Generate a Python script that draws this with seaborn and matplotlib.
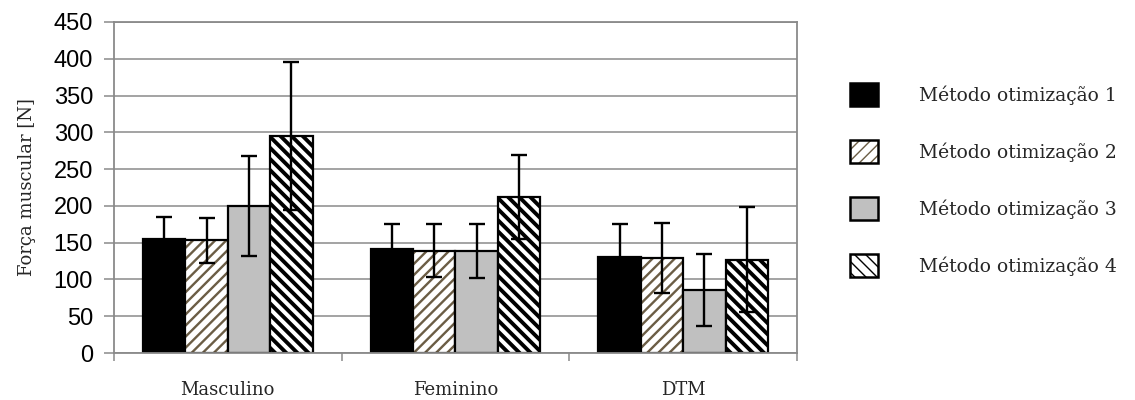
import matplotlib
matplotlib.use("Agg")
import matplotlib.pyplot as plt
from matplotlib.patches import Patch
import seaborn as sns
import pandas as pd

# Data: mean muscle force [N] and standard deviation per group and method
groups = ["Masculino", "Feminino", "DTM"]
methods = ["Método otimização 1", "Método otimização 2",
           "Método otimização 3", "Método otimização 4"]
mean_m1 = [155, 141, 130]
mean_m2 = [153, 139, 129]
mean_m3 = [200, 139, 86]
mean_m4 = [295, 212, 127]
sd_m1 = [30, 34, 46]
sd_m2 = [31, 36, 48]
sd_m3 = [68, 37, 49]
sd_m4 = [101, 57, 71]
y_ticks = [0, 50, 100, 150, 200, 250, 300, 350, 400, 450]

means = [mean_m1, mean_m2, mean_m3, mean_m4]
sds = [sd_m1, sd_m2, sd_m3, sd_m4]

rows = []
for m, vals, errs in zip(methods, means, sds):
    for g, v, e in zip(groups, vals, errs):
        rows.append({"grupo": g, "metodo": m, "forca": v, "sd": e})
df = pd.DataFrame(rows)

sns.set_theme(style="white")
plt.rcParams["font.family"] = ["Liberation Sans", "DejaVu Sans"]

fig = plt.figure(figsize=(11.35, 4.0), dpi=100)
ax = fig.add_axes([0.1004, 0.1175, 0.6018, 0.8275])

# bar styles per method: face colour, hatch, hatch colour, hatch width
styles = [
    dict(fc="black", hatch=None, hc="black", hlw=1.0),
    dict(fc="white", hatch="///", hc="#6b5d45", hlw=1.7),
    dict(fc="#c0c0c0", hatch=None, hc="black", hlw=1.0),
    dict(fc="white", hatch="\\\\\\", hc="black", hlw=2.8),
]
palette = {m: s["fc"] for m, s in zip(methods, styles)}

sns.barplot(data=df, x="grupo", y="forca", hue="metodo", order=groups,
            hue_order=methods, palette=palette, width=0.745, gap=0,
            errorbar=None, legend=False, saturation=1, ax=ax,
            edgecolor="black", linewidth=1.5)

for cont, st, m in zip(ax.containers, styles, methods):
    sub = df[df["metodo"] == m].set_index("grupo").loc[groups]
    xs = []
    for bar in cont:
        bar.set_facecolor(st["fc"])
        bar.set_edgecolor("black")
        bar.set_linewidth(1.6)
        bar.set_zorder(2)
        if st["hatch"]:
            bar.set_hatch(st["hatch"])
            bar._hatch_color = matplotlib.colors.to_rgba(st["hc"])
            try:
                bar.set_hatch_linewidth(st["hlw"])
            except AttributeError:
                pass
        xs.append(bar.get_x() + bar.get_width() / 2)
    ax.errorbar(xs, sub["forca"].values, yerr=sub["sd"].values, fmt="none",
                ecolor="black", elinewidth=1.7, capsize=6, capthick=1.7,
                zorder=4)

ax.set_xlim(-0.5, 2.5)
ax.set_ylim(0, 450)
ax.set_yticks(y_ticks)
ax.set_yticklabels([str(t) for t in y_ticks], fontsize=17,
                   family=["Liberation Sans"])
ax.yaxis.grid(True, color="#8a8a8a", linewidth=1.1)
ax.set_axisbelow(True)

ax.set_xticks([0, 1, 2])
ax.set_xticklabels(groups, fontsize=13, family=["DejaVu Serif"])
ax.set_xticks([-0.5, 0.5, 1.5, 2.5], minor=True)
ax.tick_params(axis="x", which="major", length=0, pad=20)
ax.tick_params(axis="x", which="minor", length=6, width=1.1,
               color="#8a8a8a", direction="out", bottom=True)
ax.tick_params(axis="y", length=7, width=1.1, color="#8a8a8a",
               direction="out", left=True, pad=8, labelcolor="black")

for side in ["top", "right", "left", "bottom"]:
    ax.spines[side].set_visible(True)
    ax.spines[side].set_color("#8a8a8a")
    ax.spines[side].set_linewidth(1.3)

ax.set_xlabel("")
ax.set_ylabel("Força muscular [N]", fontsize=13, family=["DejaVu Serif"],
              labelpad=13)

handles = []
for st in styles:
    h = Patch(facecolor=st["fc"], edgecolor="black", linewidth=1.8,
              hatch=st["hatch"])
    if st["hatch"]:
        h._hatch_color = matplotlib.colors.to_rgba(st["hc"])
        try:
            h.set_hatch_linewidth(st["hlw"])
        except AttributeError:
            pass
    handles.append(h)

fig.legend(handles, methods, loc="center left",
           bbox_to_anchor=(0.734, 0.55), frameon=False,
           prop={"family": "DejaVu Serif", "size": 13.5},
           handlelength=1.5, handleheight=1.45, handletextpad=2.2,
           labelspacing=1.85)

fig.savefig("out.png", dpi=100)
